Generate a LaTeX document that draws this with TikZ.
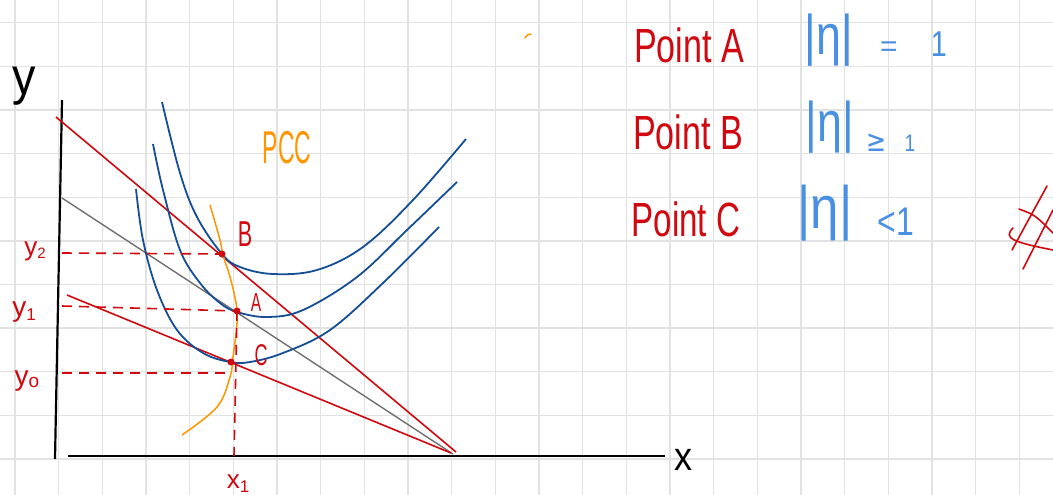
\documentclass[tikz,border=0pt]{standalone}
\usepackage{fontspec}
\setmainfont{Liberation Sans}
\newfontfamily\symfont{DejaVu Sans}
\usepackage{graphicx}
\definecolor{penred}{RGB}{208,8,16}
\definecolor{icblue}{RGB}{22,78,150}
\definecolor{txtblue}{RGB}{74,144,226}
\definecolor{pccorange}{RGB}{255,150,0}
\definecolor{bgray}{RGB}{112,112,112}
\definecolor{gridgray}{RGB}{226,226,226}
\newcommand\hw[3]{\scalebox{#1}[1]{\fontsize{#2}{#2}\selectfont #3}}
\begin{document}
\begin{tikzpicture}[x=1pt,y=-1pt,
  gridline/.style={draw=gridgray,line width=1.3pt},
  axisline/.style={draw=black,line width=2.2pt},
  budget/.style={draw=penred,line width=1.6pt},
  grayline/.style={draw=bgray,line width=1.4pt},
  icurve/.style={draw=icblue,line width=1.8pt},
  pcc/.style={draw=pccorange,line width=1.5pt},
  guide/.style={draw=penred,line width=1.6pt,dash pattern=on 10pt off 7pt},
  mark dot/.style={fill=penred},
  lbl/.style={inner sep=0pt,anchor=center},
  redtxt/.style={lbl,text=penred},
  bluetxt/.style={lbl,text=txtblue},
  hash/.style={draw=penred,line width=1.6pt,line cap=round}]
\useasboundingbox[fill=white] (0,0) rectangle (1053,495);
% grid
\foreach \k in {0,...,23} \draw[gridline] ({15+43.67*\k},0) -- ({15+43.67*\k},495);
\foreach \k in {0,...,10} \draw[gridline] (0,{22.7+43.63*\k}) -- (1053,{22.7+43.63*\k});
% key coordinates
\coordinate (yTop) at (62,100);
\coordinate (yBot) at (55,459);
\coordinate (xL) at (68,456);
\coordinate (xR) at (665,456);
\coordinate (B) at (222,254);
\coordinate (A) at (237,311);
\coordinate (C) at (231,362);
\coordinate (xone) at (234,456);
\coordinate (ytwo) at (62,253);
\coordinate (yone) at (62,306);
\coordinate (yzero) at (62,373);
\coordinate (yzeroEnd) at (232,373);
\coordinate (bOneS) at (56,117);
\coordinate (bOneE) at (456,452);
\coordinate (gS) at (62,198);
\coordinate (gE) at (453,454);
\coordinate (bTwoS) at (67,295);
\coordinate (bTwoE) at (451,453);
% axes
\draw[axisline] (yTop) -- (yBot);
\draw[axisline] (xL) -- (xR);
% budget lines
\draw[budget] (bOneS) -- (bOneE);
\draw[grayline] (gS) -- (gE);
\draw[budget] (bTwoS) -- (bTwoE);
% indifference curves
\draw[icurve] plot[smooth,tension=0.6] coordinates {(162,102) (180,173) (197,217) (222,254) (240,267) (273,274) (317,270) (363,247) (413,200) (466,139)};
\draw[icurve] plot[smooth,tension=0.6] coordinates {(153,144) (163,190) (180,250) (200,283) (220,303) (237,312) (267,317) (303,310) (357,277) (407,230) (457,182)};
\draw[icurve] plot[smooth,tension=0.6] coordinates {(136,189) (143,240) (157,290) (177,330) (203,353) (230,362) (250,362) (283,353) (330,330) (383,283) (439,227)};
% PCC
\draw[pcc] plot[smooth,tension=0.6] coordinates {(210,205) (220,240) (223,255) (230,277) (236,303) (237,323) (233,357) (230,377) (217,407) (182,435)};
% dashed guides
\draw[guide] (ytwo) -- (B);
\draw[guide] (yone) -- (A);
\draw[guide] (yzero) -- (yzeroEnd);
\draw[guide] (A) -- (xone);
% dots
\fill[mark dot] (B) circle (3.5pt);
\fill[mark dot] (A) circle (3.5pt);
\fill[mark dot] (C) circle (3.5pt);
% graph labels
\node[lbl] (ylab) at (24,86) {\hw{0.9}{52}{y}};
\node[lbl] (xlab) at (683,460) {\hw{0.9}{40}{x}};
\node[redtxt] (Blab) at (245,234) {\hw{0.6}{36}{B}};
\node[redtxt] (Alab) at (256,303) {\hw{0.6}{26}{A}};
\node[redtxt] (Clab) at (261,355) {\hw{0.6}{30}{C}};
\node[lbl,text=pccorange] (pcclab) at (287,148) {\hw{0.5}{46}{PCC}};
\node[redtxt] (ytwolab) at (35,251) {\fontsize{26}{26}\selectfont y\raisebox{-3pt}{\fontsize{15}{15}\selectfont 2}};
\node[redtxt] (yonelab) at (24,312) {\fontsize{28}{28}\selectfont y\raisebox{-4pt}{\fontsize{17}{17}\selectfont 1}};
\node[redtxt] (yzerolab) at (27,381) {\fontsize{28}{28}\selectfont y\raisebox{-2pt}{\fontsize{19}{19}\selectfont o}};
\node[redtxt] (xonelab) at (238,484) {\fontsize{26}{26}\selectfont x\raisebox{-4pt}{\fontsize{17}{17}\selectfont 1}};
% right-hand notes
\node[redtxt] (ptA) at (689,45) {\hw{0.71}{48}{Point A}};
\node[redtxt] (ptB) at (688,132) {\hw{0.71}{48}{Point B}};
\node[redtxt] (ptC) at (686,219) {\hw{0.69}{48}{Point C}};
\node[bluetxt] (etaA) at (829,40) {\hw{0.8}{56}{|η|}};
\node[bluetxt] (eqA) at (889,49) {\hw{1}{30}{=}};
\node[bluetxt] (oneA) at (939,44) {\hw{0.8}{36}{1}};
\node[bluetxt] (etaB) at (830,127) {\hw{0.8}{56}{|η|}};
\node[bluetxt] (geB) at (877,143) {\symfont\hw{0.8}{30}{≥}};
\node[bluetxt] (oneB) at (910,143) {\hw{0.8}{24}{1}};
\node[bluetxt] (etaC) at (825,213) {\hw{0.85}{60}{|η|}};
\node[bluetxt] (ltC) at (896,222) {\hw{0.8}{40}{<1}};
% hand-drawn hash mark
\draw[hash] (1012,250) -- (1047,186);
\draw[hash] (1023,269) -- (1053,210);
\draw[hash] (1019,209) .. controls (1035,215) .. (1053,233);
\draw[hash] (1013,228) .. controls (1003,238) and (1012,242) .. (1053,250);
% stray orange tick
\draw[pcc,line cap=round] (525,38) .. controls (527,35) .. (531,34);
\end{tikzpicture}
\end{document}
